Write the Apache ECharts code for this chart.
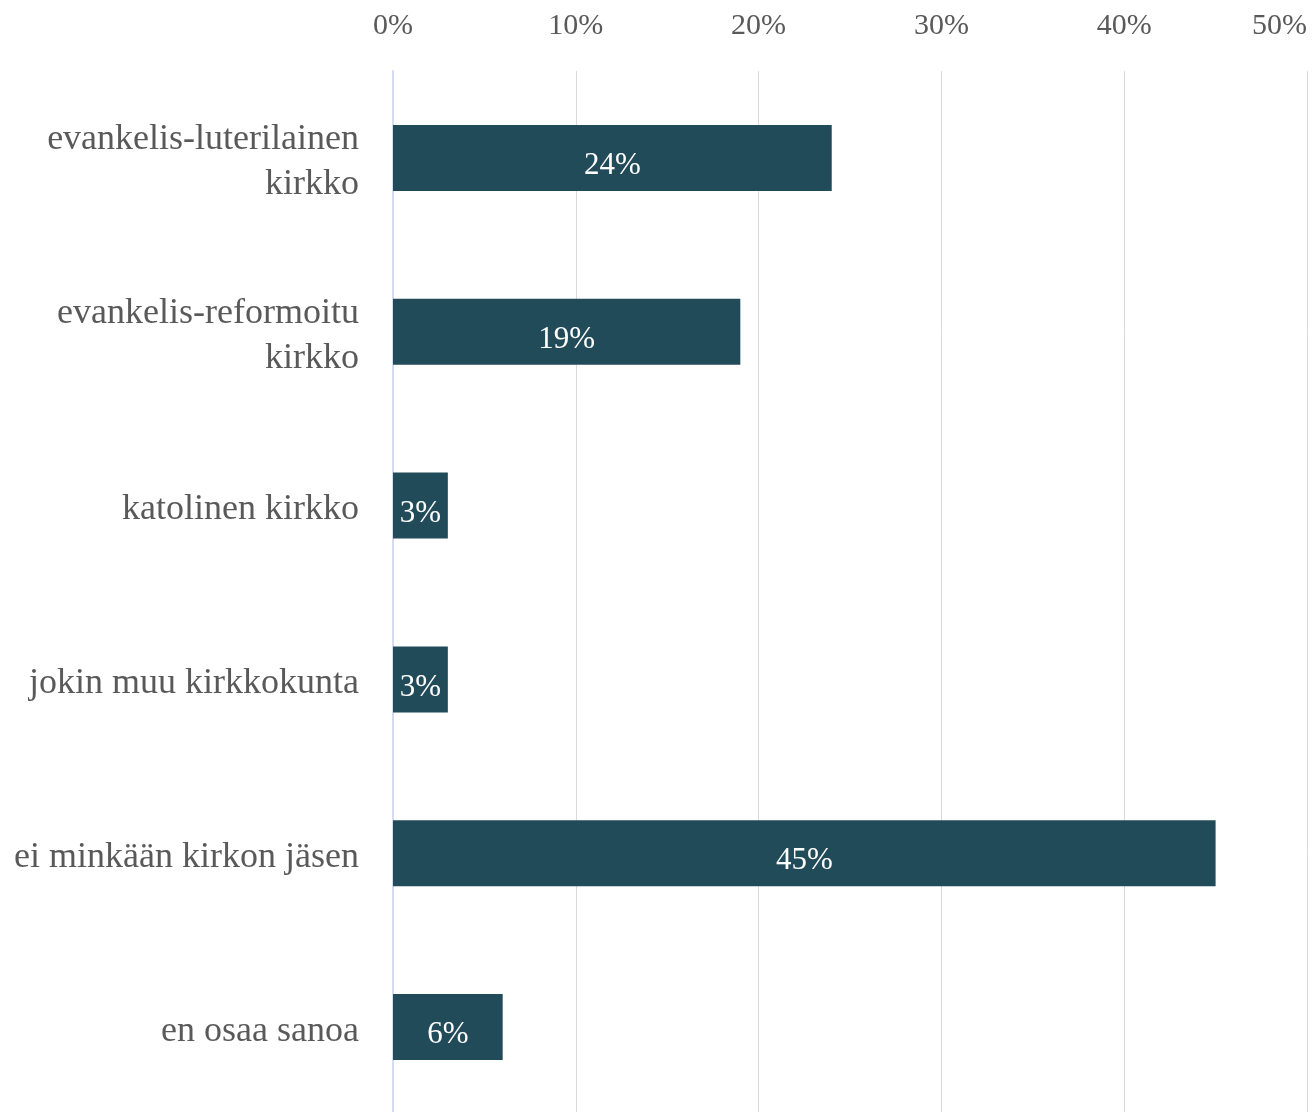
<!DOCTYPE html>
<html>
<head>
<meta charset="utf-8">
<script src="https://cdn.jsdelivr.net/npm/echarts@6/dist/echarts.min.js"></script>
<style>
	html, body { margin: 0; padding: 0; background: #fff; }
	#chart { width: 1315px; height: 1112px; }
</style>
</head>
<body>
<div id="chart"></div>
<script>
var categories = ['evankelis-luterilainen\nkirkko', 'evankelis-reformoitu\nkirkko', 'katolinen kirkko', 'jokin muu kirkkokunta', 'ei minkään kirkon jäsen', 'en osaa sanoa'];
var values = [24, 19, 3, 3, 45, 6];

var chart = echarts.init(document.getElementById('chart'));
var option = {
	animation: false,
	textStyle: {
		fontFamily: 'Liberation Serif'
	},
	grid: {
		left: 393,
		right: 8,
		top: 71,
		height: 1043,
		outerBoundsMode: 'none',
		containLabel: false
	},
	xAxis: {
		type: 'value',
		position: 'top',
		min: 0,
		max: 50,
		interval: 10,
		axisLine: { show: false },
		axisTick: { show: false },
		axisLabel: {
			formatter: '{value}%',
			color: '#595959',
			fontSize: 30,
			margin: 30,
			alignMaxLabel: 'right'
		},
		splitLine: {
			lineStyle: { color: '#d9d9d9', width: 1 }
		}
	},
	yAxis: {
		type: 'category',
		inverse: true,
		data: categories,
		axisLine: { lineStyle: { color: '#d6dcf0', width: 2 } },
		axisTick: { show: false },
		axisLabel: {
			align: 'right',
			margin: 34,
			formatter: function (value) {
				return value.split('\n').map(function (s) { return '{c|' + s + '}'; }).join('\n');
			},
			rich: {
				c: {
					color: '#595959',
					fontSize: 36,
					fontFamily: 'Liberation Serif',
					lineHeight: 45,
					padding: [8, 0, 0, 0]
				}
			}
		}
	},
	series: [{
		type: 'bar',
		data: values,
		barWidth: 66,
		itemStyle: { color: '#224b59' },
		label: {
			show: true,
			position: 'inside',
			formatter: '{c}%',
			color: '#ffffff',
			fontSize: 31,
			offset: [0, 8],
			fontFamily: 'Liberation Serif'
		}
	}]
};
chart.setOption(option);
</script>
</body>
</html>
